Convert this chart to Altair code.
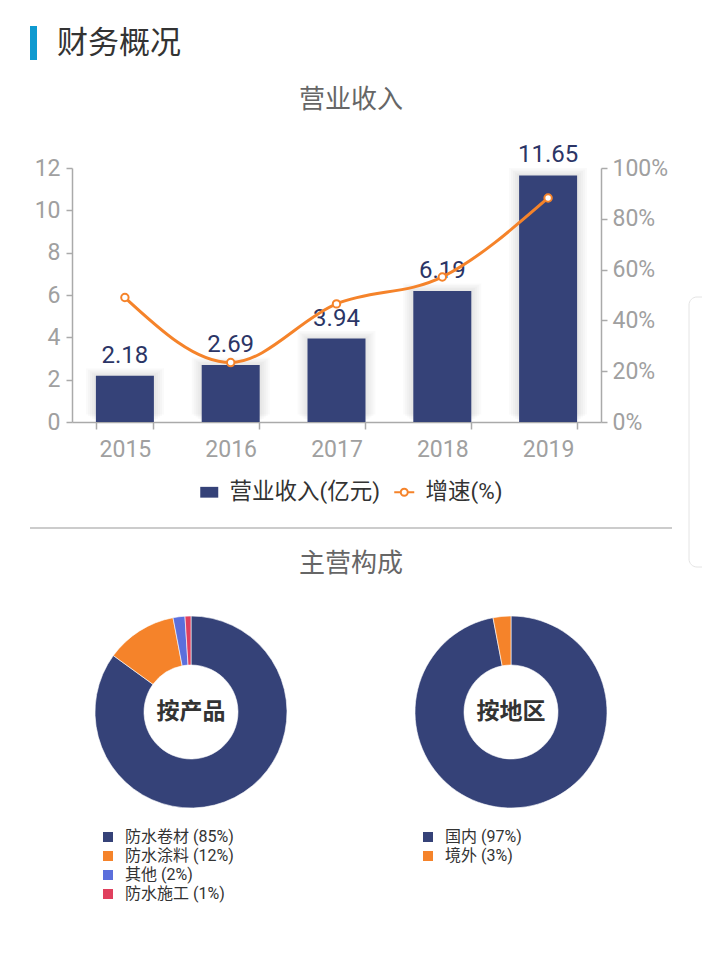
import altair as alt
import pandas as pd

# ---------------- data ----------------
years = ["2015", "2016", "2017", "2018", "2019"]
revenue = [2.18, 2.69, 3.94, 6.19, 11.65]
growth = [49.0, 23.4, 46.5, 57.1, 88.2]
revenue_ticks = [0, 2, 4, 6, 8, 10, 12]
growth_ticks = [0, 20, 40, 60, 80, 100]

product_names = ["防水卷材", "防水涂料", "其他", "防水施工"]
product_share = [85, 12, 2, 1]
region_names = ["国内", "境外"]
region_share = [97, 3]

bar_series = "营业收入(亿元)"
line_series = "增速(%)"

# ---------------- style ----------------
W, H = 702, 958
NAVY = "#354278"
ORANGE = "#f5832a"
product_colors = [NAVY, ORANGE, "#5b6fdc", "#e0405e"]
region_colors = [NAVY, ORANGE]
AXIS_GRAY = "#aaaaaa"
LABEL_GRAY = "#a0a0a0"
NUM_FONT = "Roboto"
CJK = "Noto Sans CJK SC"
MIX = "Roboto, Noto Sans CJK SC"

PLOT_L, PLOT_R, PLOT_T, PLOT_B = 72, 601, 168, 422

bar_df = pd.DataFrame({"year": years, "revenue": revenue, "series": [bar_series] * len(years)})
line_df = pd.DataFrame({"year": years, "growth": growth, "series": [line_series] * len(years)})

prod_df = pd.DataFrame({
    "label": [f"{n} ({s}%)" for n, s in zip(product_names, product_share)],
    "share": product_share,
    "idx": list(range(len(product_names))),
})
reg_df = pd.DataFrame({
    "label": [f"{n} ({s}%)" for n, s in zip(region_names, region_share)],
    "share": region_share,
    "idx": list(range(len(region_names))),
})

x_scale = alt.Scale(domain=years, range=[PLOT_L, PLOT_R], paddingInner=0.46, paddingOuter=0.23)
y_scale = alt.Scale(domain=[0, 12], range=[PLOT_B, PLOT_T], nice=False)
p_scale = alt.Scale(domain=[0, 100], range=[PLOT_B, PLOT_T], nice=False)

x_axis = alt.Axis(
    orient="bottom", offset=-(H - PLOT_B), tickBand="extent", labelAngle=0, title=None,
    grid=False, domainColor=AXIS_GRAY, domainWidth=1.5, tickColor=AXIS_GRAY, tickWidth=1.5,
    tickSize=7, labelColor=LABEL_GRAY, labelFont=NUM_FONT, labelFontSize=23, labelPadding=9,
)
y_axis = alt.Axis(
    orient="left", offset=-PLOT_L, values=revenue_ticks, title=None, grid=False,
    domainColor=AXIS_GRAY, domainWidth=1.5, tickColor=AXIS_GRAY, tickWidth=1.5, tickSize=6,
    labelColor=LABEL_GRAY, labelFont=NUM_FONT, labelFontSize=23, labelPadding=6,
)
p_axis = alt.Axis(
    orient="right", offset=-(W - PLOT_R), values=growth_ticks, title=None, grid=False,
    labelExpr="datum.value + '%'",
    domainColor=AXIS_GRAY, domainWidth=1.5, tickColor=AXIS_GRAY, tickWidth=1.5, tickSize=6,
    labelColor=LABEL_GRAY, labelFont=NUM_FONT, labelFontSize=23, labelPadding=5,
)

X_ENC = alt.X("year:N", scale=x_scale, axis=x_axis)
Y_ENC = alt.Y("revenue:Q", scale=y_scale, axis=y_axis)
P_ENC = alt.Y("growth:Q", scale=p_scale, axis=p_axis)

base_bar = alt.Chart(bar_df)

shadows = [
    base_bar.mark_bar(width=58 + 4 * k, color="#777777", opacity=0.035, yOffset=-1.5 * k).encode(
        x=X_ENC, y=Y_ENC,
    )
    for k in range(1, 6)
]

bars = base_bar.mark_bar(width=58).encode(
    x=X_ENC,
    y=Y_ENC,
    color=alt.Color(
        "series:N",
        scale=alt.Scale(domain=[bar_series], range=[NAVY]),
        legend=alt.Legend(
            orient="none", legendX=198, legendY=481, title=None,
            symbolType="M-1,-0.6L1,-0.6L1,0.6L-1,0.6Z", symbolSize=324,
            labelFont=MIX, labelFontSize=22.5, labelColor="#333333", labelOffset=9,
        ),
    ),
)

bar_text = base_bar.mark_text(
    baseline="alphabetic", dy=-13, fontSize=24, font=NUM_FONT, color="#2b3566"
).encode(
    x=X_ENC, y=Y_ENC,
    text=alt.Text("revenue:Q", format=".2f"),
)

bar_group = alt.layer(*shadows, bars, bar_text)

base_line = alt.Chart(line_df)
line = base_line.mark_line(interpolate="monotone", strokeWidth=3).encode(
    x=X_ENC,
    y=P_ENC,
    color=alt.Color(
        "series:N",
        scale=alt.Scale(domain=[line_series], range=[ORANGE]),
        legend=alt.Legend(
            orient="none", legendX=393, legendY=481, title=None,
            symbolType="M-1,0L-0.35,0M0.35,0L1,0M-0.35,0A0.35,0.35,0,1,1,0.35,0A0.35,0.35,0,1,1,-0.35,0",
            symbolSize=400, symbolStrokeWidth=2, symbolFillColor="white",
            labelFont=MIX, labelFontSize=22.5, labelColor="#333333", labelOffset=10,
        ),
    ),
)
points = base_line.mark_point(
    shape="circle", filled=True, fill="white", stroke=ORANGE, strokeWidth=2, size=55, opacity=1
).encode(
    x=X_ENC, y=P_ENC,
)
line_group = alt.layer(line, points)

# ---------------- donuts ----------------
def donut(df, colors, cx, lx):
    return alt.Chart(df).mark_arc(innerRadius=47, outerRadius=96, stroke="white", strokeWidth=0.6).encode(
        theta=alt.Theta("share:Q", stack=True),
        order=alt.Order("idx:Q"),
        color=alt.Color(
            "label:N",
            scale=alt.Scale(domain=list(df["label"]), range=colors),
            sort=list(df["label"]),
            legend=alt.Legend(
                orient="none", legendX=lx, legendY=829, title=None, direction="vertical",
                symbolType="square", symbolSize=100, symbolStrokeWidth=0,
                labelFont=MIX, labelFontSize=16, labelColor="#333333", labelOffset=9,
                rowPadding=3,
            ),
        ),
        x=alt.value(cx),
        y=alt.value(712),
    )

pie_left = donut(prod_df, product_colors, 191, 100)
pie_right = donut(reg_df, region_colors, 511, 420)

# ---------------- decorative text ----------------
one = pd.DataFrame({"k": [0]})

def label(txt, x, y, size, color, align="center", weight="normal"):
    return alt.Chart(one).mark_text(
        text=txt, align=align, baseline="middle", fontSize=size, font=CJK,
        color=color, fontWeight=weight,
    ).encode(x=alt.value(x), y=alt.value(y))

header_bar = alt.Chart(one).mark_rect(color="#0f9ad0").encode(
    x=alt.value(30), x2=alt.value(37), y=alt.value(26), y2=alt.value(60)
)
separator = alt.Chart(one).mark_rule(color="#cccccc", strokeWidth=2).encode(
    x=alt.value(30), x2=alt.value(672), y=alt.value(528)
)
scroll_hint = alt.Chart(one).mark_rect(
    fill="white", stroke="#e4e4e4", strokeWidth=1, cornerRadius=8
).encode(x=alt.value(689), x2=alt.value(712), y=alt.value(297), y2=alt.value(567))

texts = [
    label("财务概况", 57, 44, 31, "#333333", align="left"),
    label("营业收入", 351, 100, 26, "#666666"),
    label("主营构成", 351, 564, 26, "#666666"),
    label("按产品", 191, 712, 23, "#333333", weight="bold"),
    label("按地区", 511, 712, 23, "#333333", weight="bold"),
]

chart = alt.layer(
    scroll_hint, header_bar, separator, bar_group, line_group, pie_left, pie_right, *texts
).resolve_scale(
    y="independent", color="independent"
).resolve_legend(
    color="independent"
).properties(
    width=W, height=H, padding=0, autosize=alt.AutoSizeParams(type="none"), background="white"
).configure_view(stroke=None)

chart.save("out.html", embed_options={"renderer": "svg", "actions": False})
